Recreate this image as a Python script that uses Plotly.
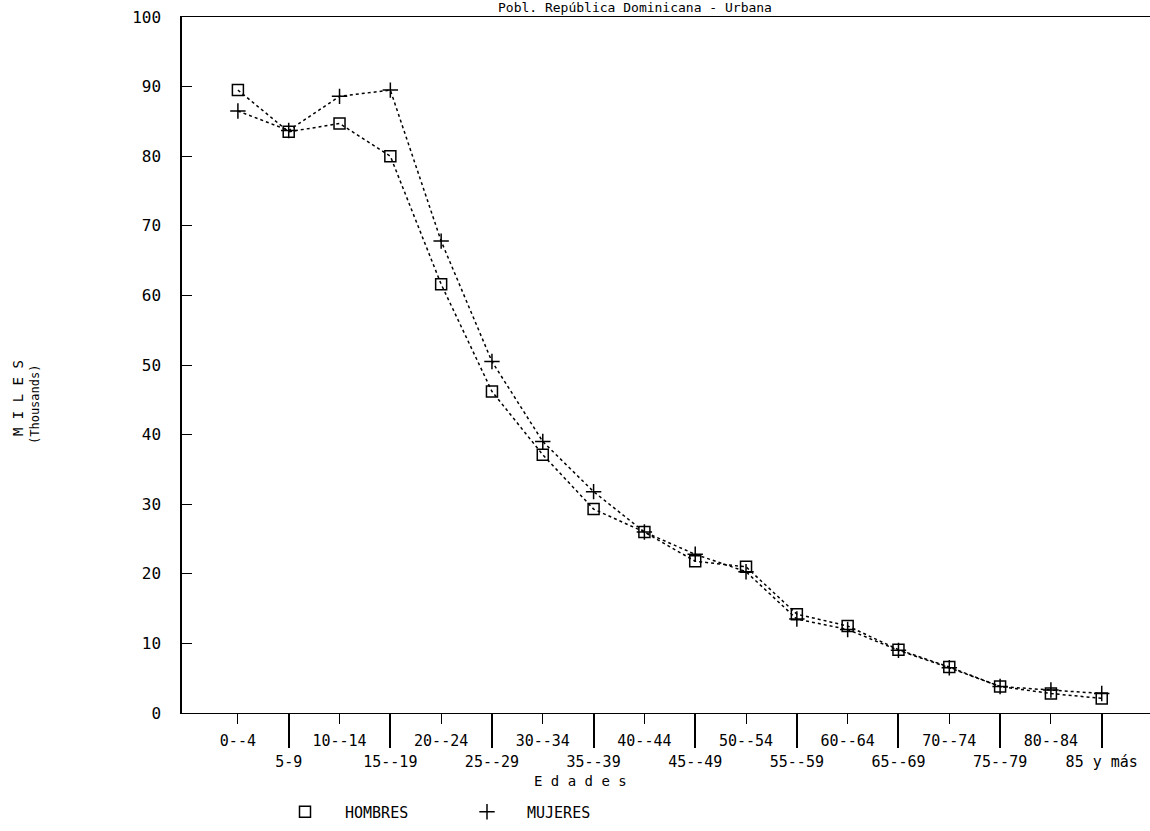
import plotly.graph_objects as go

categories = ["0--4", "5-9", "10--14", "15--19", "20--24", "25--29", "30--34", "35--39",
              "40--44", "45--49", "50--54", "55--59", "60--64", "65--69", "70--74",
              "75--79", "80--84", "85 y más"]
hombres = [89.5, 83.5, 84.7, 80.0, 61.6, 46.2, 37.1, 29.3, 26.0, 21.8, 21.0, 14.2,
           12.5, 9.1, 6.6, 3.8, 2.8, 2.1]
mujeres = [86.5, 83.7, 88.6, 89.5, 67.8, 50.5, 39.0, 31.8, 26.0, 22.8, 20.3, 13.5,
           12.0, 9.0, 6.5, 3.8, 3.3, 2.8]
y_ticks = [0, 10, 20, 30, 40, 50, 60, 70, 80, 90, 100]

FONT = "DejaVu Sans Mono"
idx = list(range(len(categories)))
even = [i for i in idx if i % 2 == 0]
odd = [i for i in idx if i % 2 == 1]

mk = dict(color="black", width=1.5)
fig = go.Figure()
fig.add_trace(go.Scatter(x=idx, y=hombres, mode="lines+markers", name="HOMBRES",
                         line=dict(color="black", width=1.5, dash="dot"),
                         marker=dict(symbol="square-open", size=11, color="black", line=mk),
                         showlegend=False))
fig.add_trace(go.Scatter(x=idx, y=mujeres, mode="lines+markers", name="MUJERES",
                         line=dict(color="black", width=1.5, dash="dot"),
                         marker=dict(symbol="cross-thin-open", size=11, color="black", line=mk),
                         showlegend=False))
# legend entries (markers only)
fig.add_trace(go.Scatter(x=[None], y=[None], mode="markers", name="HOMBRES",
                         marker=dict(symbol="square-open", size=11, color="black", line=mk)))
fig.add_trace(go.Scatter(x=[None], y=[None], mode="markers", name="MUJERES",
                         marker=dict(symbol="cross-thin-open", size=11, color="black", line=mk)))
# invisible trace on overlay axis for odd labels
fig.add_trace(go.Scatter(x=[None], y=[None], xaxis="x2", showlegend=False, hoverinfo="skip"))

xr = [-1.1, 17.95]
fig.update_layout(
    width=1150, height=831,
    margin=dict(l=182, r=0, t=17, b=118, autoexpand=False),
    paper_bgcolor="white", plot_bgcolor="white",
    font=dict(family=FONT, size=15, color="black"),
    xaxis=dict(range=xr, tickmode="array", tickvals=even,
               ticktext=[categories[i] for i in even],
               ticks="outside", ticklen=10, tickwidth=1, tickcolor="black",
               ticklabelstandoff=4, automargin=False, ticklabeloverflow="allow",
               showline=True, linecolor="black", linewidth=1, mirror=True,
               showgrid=False, zeroline=False,
               tickfont=dict(family=FONT, size=15, color="black")),
    xaxis2=dict(range=xr, overlaying="x", side="bottom", matches="x",
                tickmode="array", tickvals=odd,
                ticktext=[categories[i] for i in odd],
                ticks="outside", ticklen=34, tickwidth=1.5, tickcolor="black",
                ticklabelstandoff=1, automargin=False, ticklabeloverflow="allow",
                showline=False, showgrid=False, zeroline=False,
                tickfont=dict(family=FONT, size=15, color="black")),
    yaxis=dict(range=[0, 100], tickmode="array", tickvals=y_ticks,
               ticks="inside", ticklen=10, tickcolor="black",
               ticklabelstandoff=16, automargin=False, ticklabeloverflow="allow",
               showline=True, linecolor="black", linewidth=1.5,
               showgrid=False, zeroline=False,
               tickfont=dict(family=FONT, size=16, color="black")),
    legend=dict(orientation="h", x=(265 - 182) / 968, xanchor="left",
                y=-(812 - 713) / 696, yanchor="middle",
                entrywidth=97, entrywidthmode="pixels",
                font=dict(family=FONT, size=15, color="black"),
                itemwidth=70, bgcolor="rgba(0,0,0,0)"),
    showlegend=True,
)

fig.add_annotation(text="E d a d e s", xref="paper", yref="paper",
                   x=(580 - 182) / 968, y=-(781 - 713) / 696,
                   xanchor="center", yanchor="middle",
                   showarrow=False, font=dict(family=FONT, size=14, color="black"))
fig.add_annotation(text="M I L E S", xref="paper", yref="paper",
                   x=(18 - 182) / 968, y=(713 - 398) / 696, textangle=-90,
                   xanchor="center", yanchor="middle",
                   showarrow=False, font=dict(family=FONT, size=14, color="black"))
fig.add_annotation(text="(Thousands)", xref="paper", yref="paper",
                   x=(35 - 182) / 968, y=(713 - 405) / 696, textangle=-90,
                   xanchor="center", yanchor="middle",
                   showarrow=False, font=dict(family=FONT, size=12, color="black"))
fig.add_annotation(text="Pobl. República Dominicana - Urbana", xref="paper", yref="paper",
                   x=(635 - 182) / 968, y=1.0, xanchor="center", yanchor="bottom", yshift=0,
                   showarrow=False, font=dict(family=FONT, size=13, color="black"))

# remove the default body margin so the figure fills the window exactly
fig.write_html("out.html", config={"displayModeBar": False},
               post_script="document.body.style.margin='0px';document.body.style.overflow='hidden';")
